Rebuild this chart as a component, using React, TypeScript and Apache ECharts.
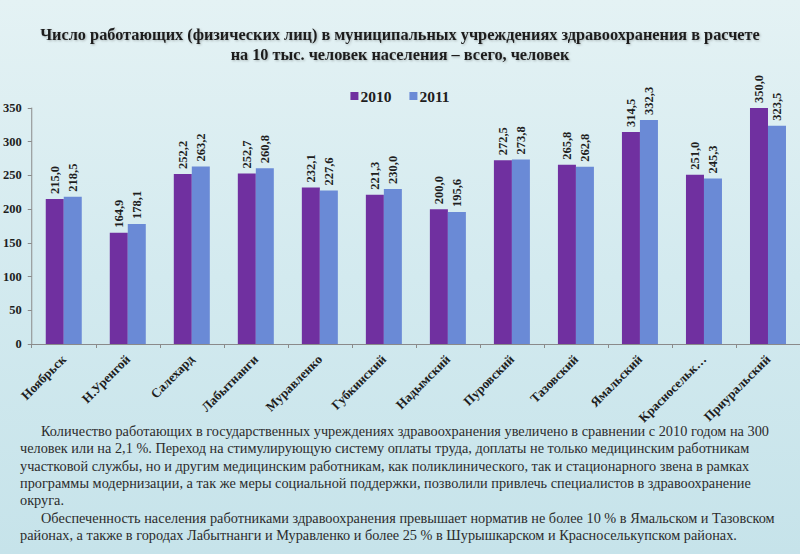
import React, { useEffect, useRef } from "react";
import * as echarts from "echarts";

const categories = [
  "Ноябрьск",
  "Н.Уренгой",
  "Салехард",
  "Лабытнанги",
  "Муравленко",
  "Губкинский",
  "Надымский",
  "Пуровский",
  "Тазовский",
  "Ямальский",
  "Красносельк…",
  "Приуральский",
];
const values2010 = [215.0, 164.9, 252.2, 252.7, 232.1, 221.3, 200.0, 272.5, 265.8, 314.5, 251.0, 350.0];
const values2011 = [218.5, 178.1, 263.2, 260.8, 227.6, 230.0, 195.6, 273.8, 262.8, 332.3, 245.3, 323.5];
const seriesNames = ["2010", "2011"];
const yTicks = { min: 0, max: 350, interval: 50 };

const titleLines = [
  "Число работающих (физических лиц) в муниципальных учреждениях здравоохранения в расчете",
  "на 10 тыс. человек населения – всего, человек",
];

const paragraphLines: { text: string; indent: boolean }[] = [
  { text: "Количество работающих в государственных учреждениях здравоохранения увеличено в сравнении с 2010 годом на 300", indent: true },
  { text: "человек или на 2,1 %. Переход на стимулирующую систему оплаты труда, доплаты не только медицинским работникам", indent: false },
  { text: "участковой службы, но и другим медицинским работникам, как поликлинического, так и стационарного звена в рамках", indent: false },
  { text: "программы модернизации, а так же меры социальной поддержки, позволили привлечь специалистов в здравоохранение", indent: false },
  { text: "округа.", indent: false },
  { text: "Обеспеченность населения работниками здравоохранения превышает норматив не более 10 % в Ямальском и Тазовском", indent: true },
  { text: "районах, а также в городах Лабытнанги и Муравленко и более 25 % в Шурышкарском и Красноселькупском районах.", indent: false },
];

const SERIF = "Liberation Serif, Times New Roman, DejaVu Serif Condensed, DejaVu Serif, serif";

export default function App() {
  const ref = useRef<HTMLDivElement>(null);

  useEffect(() => {
    document.body.style.margin = "0";
    if (!ref.current) return;
    const chart = echarts.init(ref.current, null, { renderer: "svg" });
    const fmt = (p: any) => Number(p.value).toFixed(1).replace(".", ",");
    const colors = ["#7030a0", "#6a8ad6"];

    const paragraph = paragraphLines.map((l, i) => ({
      type: "text",
      left: l.indent ? 41 : 20,
      top: 424 + i * 17.3,
      style: {
        text: l.text,
        font: `14.3px ${SERIF}`,
        fill: "#2c2c2c",
      },
    }));

    chart.setOption({
      animation: false,
      backgroundColor: new echarts.graphic.LinearGradient(0, 0, 0, 1, [
        { offset: 0, color: "#e4f2f4" },
        { offset: 0.5, color: "#d3eaef" },
        { offset: 1, color: "#c6e3ea" },
      ]),
      title: {
        text: titleLines.join("\n"),
        left: "center",
        top: 19,
        textStyle: {
          fontFamily: SERIF,
          fontWeight: "bold",
          fontSize: 16.3,
          lineHeight: 20,
          color: "#1e1e1e",
          textShadowColor: "rgba(0,0,0,0.25)",
          textShadowBlur: 2,
          textShadowOffsetX: 1,
          textShadowOffsetY: 1,
        },
      },
      legend: {
        top: 83,
        left: "center",
        itemWidth: 8,
        itemHeight: 8,
        itemGap: 18,
        icon: "rect",
        data: seriesNames,
        textStyle: { fontFamily: SERIF, fontWeight: "bold", fontSize: 15.5, color: "#1e1e1e", padding: [0, 0, 0, -3] },
      },
      grid: { left: 30, right: -5, top: 108, bottom: 210, containLabel: false },
      xAxis: {
        type: "category",
        data: categories,
        axisLine: { lineStyle: { color: "#8a8a8a" } },
        axisTick: { show: true, length: 4, lineStyle: { color: "#8a8a8a" } },
        axisLabel: {
          interval: 0,
          rotate: 45,
          margin: 13,
          fontFamily: SERIF,
          fontWeight: "bold",
          fontSize: 13,
          color: "#1e1e1e",
        },
      },
      yAxis: {
        type: "value",
        min: yTicks.min,
        max: yTicks.max,
        interval: yTicks.interval,
        splitLine: { show: false },
        axisLine: { show: true, lineStyle: { color: "#8a8a8a" } },
        axisTick: { show: true, length: 4, lineStyle: { color: "#8a8a8a" } },
        axisLabel: {
          margin: 10,
          fontFamily: SERIF,
          fontWeight: "bold",
          fontSize: 12.5,
          color: "#1e1e1e",
        },
      },
      series: [values2010, values2011].map((vals, i) => ({
        name: seriesNames[i],
        type: "bar",
        data: vals,
        barWidth: 18,
        barGap: "0%",
        itemStyle: { color: colors[i] },
        label: {
          show: true,
          position: "top",
          rotate: 90,
          align: "left",
          verticalAlign: "middle",
          distance: 5,
          formatter: fmt,
          fontFamily: SERIF,
          fontWeight: "bold",
          fontSize: 12.5,
          color: "#1e1e1e",
        },
      })),
      graphic: paragraph,
    });
    return () => chart.dispose();
  }, []);

  return <div ref={ref} style={{ position: "absolute", left: 0, top: 0, width: 800, height: 554 }} />;
}
